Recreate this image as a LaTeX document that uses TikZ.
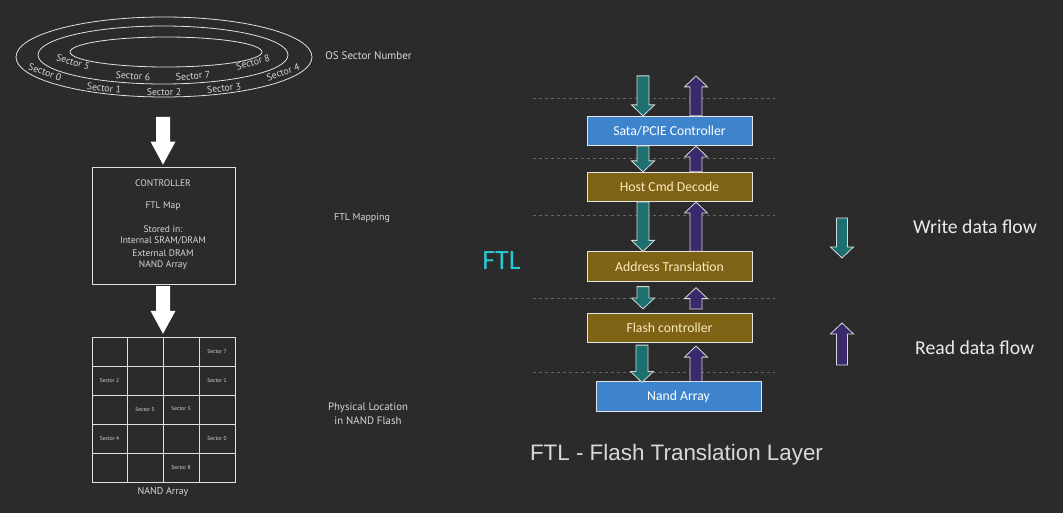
\documentclass[tikz,border=0pt]{standalone}
\usepackage{fontspec}
\setmainfont{PT Sans}
\newfontfamily\calfont{Carlito}
\newfontfamily\arialfont{Liberation Sans}
\usetikzlibrary{calc}
\definecolor{bg}{RGB}{43,43,43}
\definecolor{linec}{RGB}{225,225,225}
\definecolor{txtc}{RGB}{215,215,215}
\definecolor{tealc}{RGB}{28,112,112}
\definecolor{purplec}{RGB}{58,42,108}
\definecolor{boxblue}{RGB}{62,132,205}
\definecolor{boxolive}{RGB}{126,98,22}
\definecolor{oltxt}{RGB}{250,235,190}
\definecolor{cyanc}{RGB}{40,200,215}
\newcommand\downarr[4]{% style, start, tip, half shaft
  \path[#1] let \p1=#2, \p2=#3 in
    (\x1-#4,\y1) -- (\x1-#4,\y2+11pt) -- (\x1-11.5pt,\y2+11pt) -- (\x1,\y2)
    -- (\x1+11.5pt,\y2+11pt) -- (\x1+#4,\y2+11pt) -- (\x1+#4,\y1) -- cycle;}
\newcommand\uparr[4]{%
  \path[#1] let \p1=#2, \p2=#3 in
    (\x1-#4,\y1) -- (\x1-#4,\y2-11pt) -- (\x1-11.5pt,\y2-11pt) -- (\x1,\y2)
    -- (\x1+11.5pt,\y2-11pt) -- (\x1+#4,\y2-11pt) -- (\x1+#4,\y1) -- cycle;}
\begin{document}
\begin{tikzpicture}[x=1pt,y=-1pt,
  ring/.style={draw=linec,line width=0.8pt},
  rlab/.style={text=txtc,font=\fontsize{9.8}{10}\selectfont,inner sep=0pt},
  ltxt/.style={text=txtc,font=\fontsize{11}{13}\selectfont,align=center,inner sep=0pt},
  ctxt/.style={text=txtc,font=\fontsize{9.5}{12}\selectfont,inner sep=0pt},
  gl/.style={text=txtc,font=\fontsize{5.5}{6}\selectfont,inner sep=0pt},
  fbox/.style={draw=white!90!black,line width=0.7pt,minimum width=165pt,minimum height=29.5pt,inner sep=0pt,font=\calfont\fontsize{13.7}{15}\selectfont},
  bluebox/.style={fbox,fill=boxblue,text=white},
  olbox/.style={fbox,fill=boxolive,text=oltxt},
  warr/.style={fill=tealc,draw=white!85!black,line width=0.8pt},
  rarr/.style={fill=purplec,draw=white!85!black,line width=0.8pt},
  bigarr/.style={fill=white,draw=none},
  dline/.style={draw=gray!70!bg,line width=0.6pt,dash pattern=on 3pt off 3pt},
  legtxt/.style={text=white!92!black,font=\calfont\fontsize{19.7}{22}\selectfont,inner sep=0pt}]
\fill[bg] (0,0) rectangle (1063,513);
\useasboundingbox (0,0) rectangle (1063,513);
% ---- rings
\draw[ring] (164,57) ellipse [x radius=148, y radius=40];
\draw[ring] (163,55) ellipse [x radius=125, y radius=29];
\draw[ring] (166,52) ellipse [x radius=96, y radius=15];
\node[rlab,rotate=-17] (s5) at (73,62) {Sector 5};
\node[rlab,rotate=-20] (s0) at (45,72) {Sector 0};
\node[rlab,rotate=-4] (s6) at (133,76) {Sector 6};
\node[rlab,rotate=5] (s7) at (193,76) {Sector 7};
\node[rlab,rotate=16] (s8) at (253,62) {Sector 8};
\node[rlab,rotate=20] (s4) at (283,72) {Sector 4};
\node[rlab,rotate=-6] (s1) at (104,88) {Sector 1};
\node[rlab] (s2) at (164,92) {Sector 2};
\node[rlab,rotate=6] (s3) at (224,88) {Sector 3};
\node[ltxt] (osn) at (368.5,56) {OS Sector Number};
% ---- controller
\node[draw=linec,line width=0.8pt,minimum width=143pt,minimum height=117pt,inner sep=0pt] (ctrl) at (163.5,225.5) {};
\node[ctxt] (c1) at (163,183) {CONTROLLER};
\node[ctxt] (c2) at (163,206) {FTL Map};
\node[ctxt] (c3) at (163,229) {Stored in:};
\node[ctxt] (c4) at (163,241) {Internal SRAM/DRAM};
\node[ctxt] (c5) at (163,253) {External DRAM};
\node[ctxt] (c6) at (163,265) {NAND Array};
\node[ltxt,font=\fontsize{10}{12}\selectfont] (ftlm) at (362,218) {FTL Mapping};
% ---- grid
\draw[draw=linec,line width=0.8pt] (92,337) rectangle (235,482);
\foreach \xx in {127,163,199} \draw[linec,line width=0.8pt] (\xx,337) -- (\xx,482);
\foreach \yy in {366,395,424,453} \draw[linec,line width=0.8pt] (92,\yy) -- (235,\yy);
\node[draw=none,minimum width=143pt,minimum height=145pt,inner sep=0pt] (grid) at (163.5,409.5) {};
\node[gl] (g7) at (217,352) {Sector 7};
\node[gl] (g2) at (109.5,381) {Sector 2};
\node[gl] (g1) at (217,381) {Sector 1};
\node[gl] (g5) at (145,410) {Sector 5};
\node[gl] (g3) at (181,409) {Sector 3};
\node[gl] (g4) at (109.5,439) {Sector 4};
\node[gl] (g0) at (217,439) {Sector 0};
\node[gl] (g8) at (181,468) {Sector 8};
\node[ltxt,font=\fontsize{10}{11}\selectfont] (nandl) at (163,492) {NAND Array};
\node[ltxt,font=\fontsize{10.8}{13.5}\selectfont] (phys) at (368,413.5) {Physical Location\\in NAND Flash};
% big white arrows
\coordinate (a1s) at (163,117);
\coordinate (a2s) at (163,286);
\path[bigarr] let \p1=(a1s), \p2=($(ctrl.north)+(-0.5,-2)$) in
  (\x1-7pt,\y1) -- (\x1-7pt,\y2+23pt) -- (\x1-12.5pt,\y2+23pt) -- (\x1,\y2) -- (\x1+12.5pt,\y2+23pt) -- (\x1+7pt,\y2+23pt) -- (\x1+7pt,\y1) -- cycle;
\path[bigarr] let \p1=(a2s), \p2=($(grid.north)+(-0.5,-3)$) in
  (\x1-7pt,\y1) -- (\x1-7pt,\y2+23pt) -- (\x1-12.5pt,\y2+23pt) -- (\x1,\y2) -- (\x1+12.5pt,\y2+23pt) -- (\x1+7pt,\y2+23pt) -- (\x1+7pt,\y1) -- cycle;
% ---- right side
\foreach \yy in {98,158,215,298,372} \draw[dline] (533,\yy) -- (775,\yy);
\node[bluebox] (sata) at (669.5,131) {Sata/PCIE Controller};
\node[olbox] (host) at (669.5,187) {Host Cmd Decode};
\node[olbox] (addr) at (669.5,266.5) {Address Translation};
\node[olbox] (flash) at (669.5,328) {Flash controller};
\node[bluebox] (nand) at (678.5,396.5) {Nand Array};
\node[text=cyanc,font=\calfont\fontsize{28}{30}\selectfont,inner sep=0pt] (ftl) at (501.5,261) {FTL};
\node[text=white!85!black,font=\arialfont\fontsize{22.4}{25}\selectfont,inner sep=0pt] (title) at (676.5,455) {FTL - Flash Translation Layer};
\coordinate (intop) at ($(sata.north)+(-26.5,-40)$);
\coordinate (outtop) at ($(sata.north)+(26.5,-40)$);
% write arrows
\downarr{warr}{(intop)}{($(sata.north)+(-26.5,0)$)}{6pt}
\downarr{warr}{($(sata.south)+(-26.5,0)$)}{($(host.north)+(-26.5,0)$)}{6pt}
\downarr{warr}{($(host.south)+(-26.5,0)$)}{($(addr.north)+(-26.5,0)$)}{6pt}
\downarr{warr}{($(addr.south)+(-26.5,5)$)}{($(flash.north)+(-26.5,-4)$)}{6pt}
\downarr{warr}{($(flash.south)+(-27.5,2)$)}{($(nand.north)+(-36.5,1)$)}{6pt}
% read arrows
\uparr{rarr}{($(sata.north)+(26.5,0)$)}{(outtop)}{6pt}
\uparr{rarr}{($(host.north)+(26.5,0)$)}{($(sata.south)+(26.5,0)$)}{6pt}
\uparr{rarr}{($(addr.north)+(26.5,0)$)}{($(host.south)+(26.5,0)$)}{6pt}
\uparr{rarr}{($(flash.north)+(26.5,-4)$)}{($(addr.south)+(26.5,6)$)}{6pt}
\uparr{rarr}{($(nand.north)+(17.5,0)$)}{($(flash.south)+(26.5,3)$)}{6pt}
% legend
\node[legtxt,anchor=west] (wlab) at (913,227) {Write data flow};
\node[legtxt,anchor=west] (rlab) at (915,348) {Read data flow};
\coordinate (w1) at (842,218);
\coordinate (w2) at (842,258);
\coordinate (r1) at (842,365);
\coordinate (r2) at (842,323);
\downarr{warr}{(w1)}{(w2)}{5.5pt}
\uparr{rarr}{(r1)}{(r2)}{5.5pt}
\end{tikzpicture}
\end{document}
